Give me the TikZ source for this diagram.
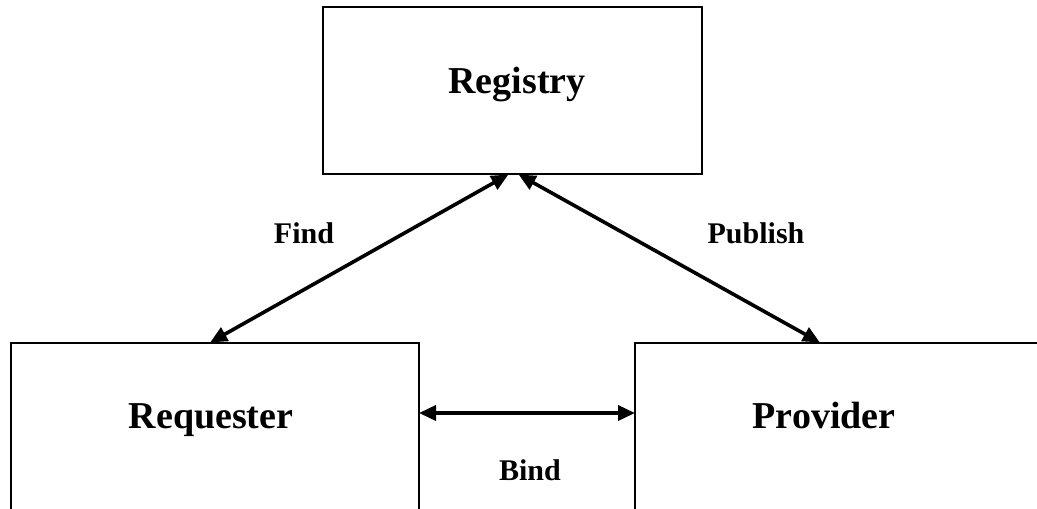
\documentclass[tikz,border=0pt]{standalone}
\usepackage{fontspec}
\setmainfont{Liberation Serif}
\usetikzlibrary{arrows.meta}
\begin{document}
\begin{tikzpicture}[x=1pt,y=-1pt,
  box/.style={draw, line width=2pt, rectangle, inner sep=0pt},
  bigtext/.style={font=\fontsize{38}{40}\selectfont\bfseries, anchor=base, inner sep=0pt},
  smalltext/.style={font=\fontsize{30}{32}\selectfont\bfseries, anchor=base, inner sep=0pt},
  link/.style={line width=3.6pt, {Triangle[length=17pt,width=15pt]}-{Triangle[length=17pt,width=15pt]}, shorten <=-1pt, shorten >=-1pt}]
  \useasboundingbox (0,0) rectangle (1037,509);
  \clip (0,0) rectangle (1037,509);
  \fill[white] (0,0) rectangle (1037,509);

  % boxes (the lower two run past the bottom and right edges)
  \node[box, minimum width=379pt, minimum height=167pt] (reg) at (512.5,90.5) {};
  \node[box, minimum width=408pt, minimum height=190pt] (req) at (215,438) {};
  \node[box, minimum width=420pt, minimum height=190pt] (prov) at (845,438) {};

  % box titles
  \node[bigtext] (regt) at (517,93) {Registry};
  \node[bigtext] (reqt) at (211,428) {Requester};
  \node[bigtext] (provt) at (824,428) {Provider};

  % connectors
  \draw[link] ([xshift=-4pt]req.north) -- ([xshift=-5pt]reg.south);
  \draw[link] ([xshift=7pt]reg.south) -- ([xshift=185pt]prov.north west);
  \draw[link] ([yshift=25pt]req.east) -- ([yshift=25pt]prov.west);

  % connector labels
  \node[smalltext] (find) at (304,243) {Find};
  \node[smalltext] (pub) at (756,243) {Publish};
  \node[smalltext] (bind) at (530,480) {Bind};
\end{tikzpicture}
\end{document}
